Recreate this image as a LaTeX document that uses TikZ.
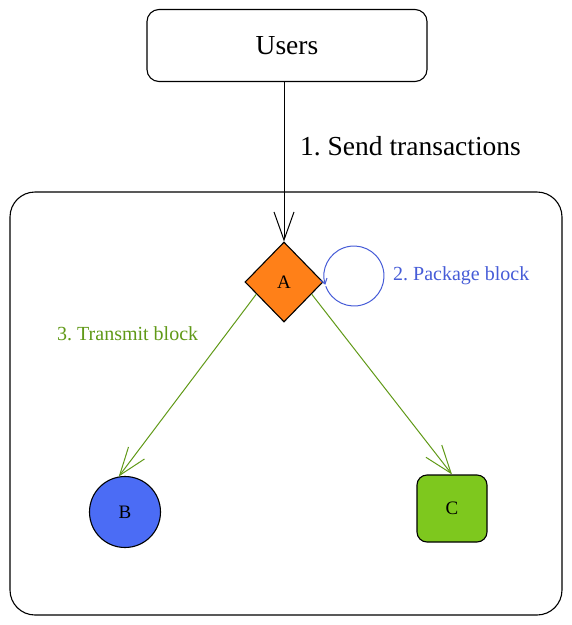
\documentclass[tikz,border=0pt]{standalone}
\usepackage{fontspec}
\setmainfont{Liberation Serif}
\usetikzlibrary{shapes.geometric,arrows.meta,calc}
\definecolor{aorange}{RGB}{255,128,24}
\definecolor{bblue}{RGB}{75,108,245}
\definecolor{cgreen}{RGB}{126,200,30}
\definecolor{tgreen}{RGB}{96,153,23}
\definecolor{tblue}{RGB}{70,92,215}
\tikzset{
  bigtip/.style={-{Straight Barb[length=28pt,width=20pt,line width=1pt]}},
  smalltip/.style={-{Straight Barb[length=5pt,width=7pt,line width=1pt]}},
  box/.style={draw,line width=1.1pt,rounded corners=12pt,minimum width=280pt,minimum height=72pt,font=\fontsize{27.5}{33}\selectfont},
  lbl/.style={anchor=west,inner sep=0pt,font=\fontsize{20}{24}\selectfont},
  big/.style={anchor=west,inner sep=0pt,font=\fontsize{27.5}{33}\selectfont},
  small/.style={font=\fontsize{19}{22}\selectfont}
}
\frenchspacing
\begin{document}
\frenchspacing
\begin{tikzpicture}[x=1pt,y=-1pt]
\useasboundingbox (0,0) rectangle (572,625);
% container
\draw[line width=1.1pt,rounded corners=25pt] (10,192) rectangle (562,615);
% nodes
\node[box] (Users) at (287,45.5) {Users};
\node[draw,line width=1.1pt,fill=aorange,diamond,inner sep=0pt,minimum width=78pt,minimum height=80pt,small] (A) at (284,282) {A};
\node[draw,line width=1.1pt,fill=bblue,circle,inner sep=0pt,minimum size=71pt,small] (B) at (125,512) {B};
\node[draw,line width=1.1pt,fill=cgreen,rounded corners=10pt,inner sep=0pt,minimum width=70pt,minimum height=67pt,small] (C) at (452,508.5) {C};
% labels
\node[big] (l1) at (300,146) {\frenchspacing 1. Send transactions};
\node[lbl,text=tblue] (l2) at (393,276) {\frenchspacing 2. Package block};
\node[lbl,text=tgreen] (l3) at (57,334) {\frenchspacing 3. Transmit block};
% connectors
\draw[bigtip,line width=1pt] (Users.south -| A.north) -- (A.north);
\draw[bigtip,line width=1pt,draw=tgreen] ($(A.west)!0.3!(A.south)$) -- (B.100);
\draw[bigtip,line width=1pt,draw=tgreen] ($(A.east)!0.3!(A.south)$) -- (C.north);
\coordinate (loopc) at (354,276);
\draw[smalltip,line width=1pt,draw=tblue] (loopc) ++(160:30) arc[start angle=160,end angle=-197,radius=30];
\end{tikzpicture}
\end{document}
